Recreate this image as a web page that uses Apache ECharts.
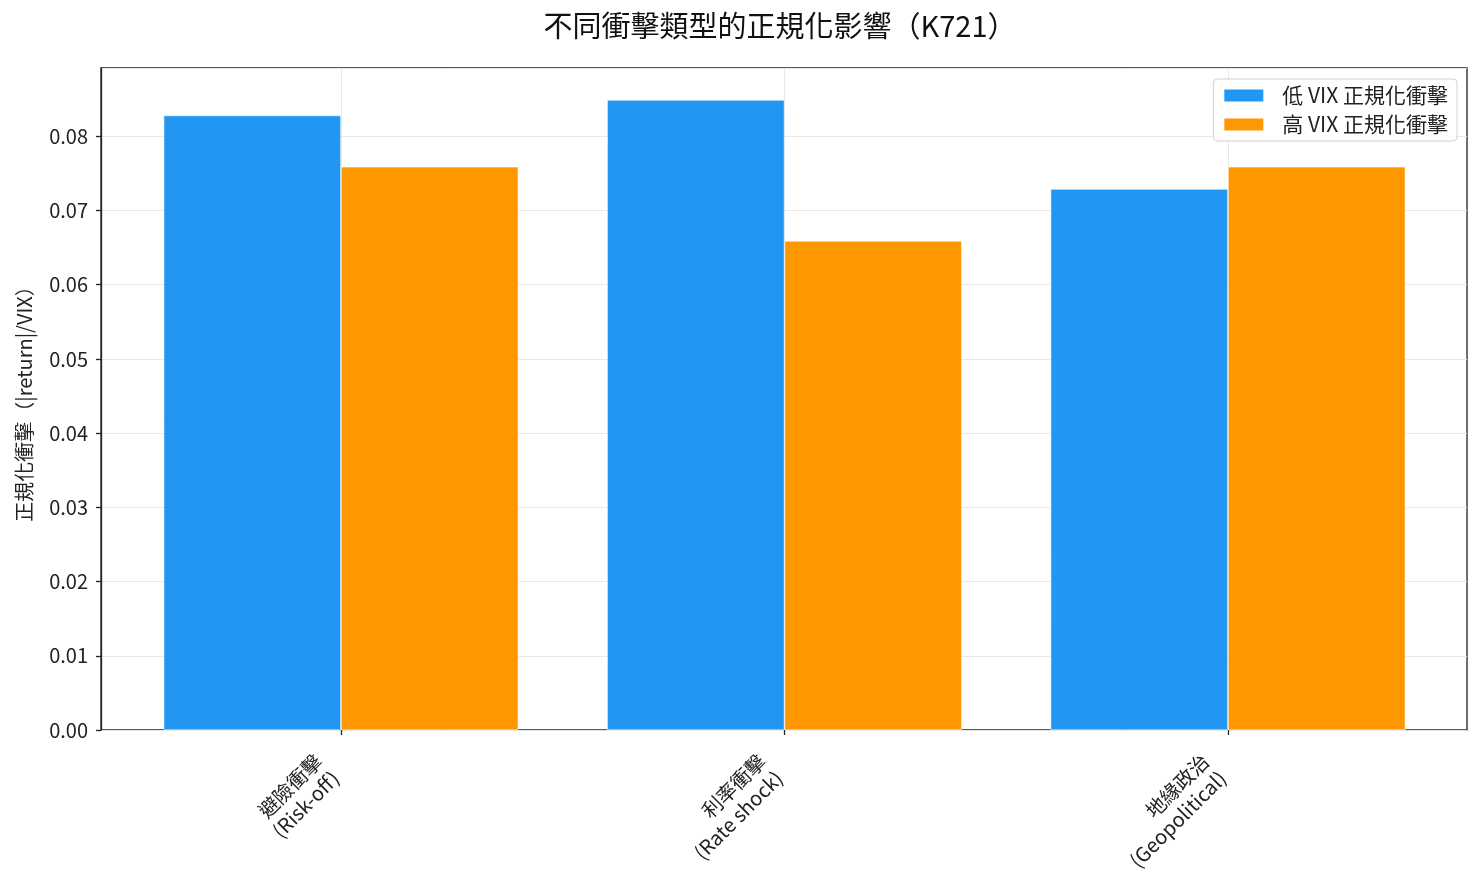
<!DOCTYPE html>
<html>
<head>
<meta charset="utf-8">
<script src="https://cdn.jsdelivr.net/npm/echarts@6/dist/echarts.min.js"></script>
<style>
  html, body { margin: 0; padding: 0; background: #fff; }
  #chart { width: 1482px; height: 882px; }
</style>
</head>
<body>
<div id="chart"></div>
<script>
// 資料
const categories = ["避險衝擊\n(Risk-off)", "利率衝擊\n(Rate shock)", "地緣政治\n(Geopolitical)"];
const lowVix = [0.0828, 0.0849, 0.0729];
const highVix = [0.0759, 0.0659, 0.0759];
const seriesNames = ["低 VIX 正規化衝擊", "高 VIX 正規化衝擊"];

const FONT = "'Noto Sans CJK TC', 'Noto Sans', sans-serif";
const yMax = 0.0892;

const chart = echarts.init(document.getElementById("chart"));

const option = {
  backgroundColor: "#fff",
  textStyle: { fontFamily: FONT },
  animation: false,
  title: {
    text: "不同衝擊類型的正規化影響（K721）",
    left: 775,
    textAlign: "center",
    top: 6,
    textStyle: { fontSize: 29, fontWeight: "normal", color: "#111", fontFamily: FONT },
  },
  legend: {
    orient: "vertical",
    right: 25,
    top: 79,
    itemWidth: 41,
    itemHeight: 14,
    itemGap: 8,
    padding: [6, 9, 6, 9],
    borderColor: "#d0d0d0",
    borderWidth: 1,
    borderRadius: 4,
    backgroundColor: "rgba(255,255,255,0.8)",
    icon: "rect",
    textStyle: { fontSize: 21, color: "#222", fontFamily: FONT, padding: [0, 0, 0, 13] },
    data: seriesNames,
  },
  // 外框 grid 與內部長條 grid
  grid: [
    { left: 101, top: 68, width: 1366, height: 662, show: true, borderColor: "#222", borderWidth: 1.3, backgroundColor: "transparent" },
    { left: 119.25, top: 68, width: 1330.5, height: 662 },
  ],
  xAxis: [
    { type: "value", gridIndex: 0, min: 0, max: 1, show: false },
    {
      type: "category",
      gridIndex: 1,
      data: categories,
      axisLine: { show: false },
      axisTick: { show: true, alignWithLabel: true, length: 5, lineStyle: { color: "#222", width: 1.3 } },
      splitLine: { show: true, alignWithLabel: true, lineStyle: { color: "#e8e8e8", width: 1 } },
      axisLabel: {
        rotate: 45,
        fontSize: 20,
        color: "#222",
        align: "right",
        margin: 22,
        lineHeight: 24,
        padding: [0, 20, 0, 0],
        fontFamily: FONT,
      },
    },
  ],
  yAxis: [
    {
      type: "value",
      gridIndex: 0,
      min: 0,
      max: yMax,
      interval: 0.01,
      name: "正規化衝擊（|return|/VIX）",
      nameLocation: "middle",
      nameGap: 67,
      nameTextStyle: { fontSize: 20, color: "#222", fontFamily: FONT },
      axisLine: { show: true, lineStyle: { color: "#222", width: 1.3 } },
      axisTick: { show: true, length: 5, lineStyle: { color: "#222", width: 1.3 } },
      axisLabel: {
        fontSize: 20,
        color: "#222",
        margin: 13,
        showMaxLabel: false,
        formatter: (v) => v.toFixed(2),
      },
      splitLine: { show: true, lineStyle: { color: "#e8e8e8", width: 1 } },
    },
    { type: "value", gridIndex: 1, min: 0, max: yMax, show: false, splitLine: { show: false } },
  ],
  series: [
    {
      name: seriesNames[0],
      type: "bar",
      xAxisIndex: 1,
      yAxisIndex: 1,
      data: lowVix,
      barWidth: "40%",
      barGap: "0%",
      itemStyle: { color: "#2196F3", borderColor: "#fff", borderWidth: 0.6 },
      z: 3,
    },
    {
      name: seriesNames[1],
      type: "bar",
      xAxisIndex: 1,
      yAxisIndex: 1,
      data: highVix,
      barWidth: "40%",
      barGap: "0%",
      itemStyle: { color: "#FF9800", borderColor: "#fff", borderWidth: 0.6 },
      z: 3,
    },
  ],
};

chart.setOption(option);
</script>
</body>
</html>
